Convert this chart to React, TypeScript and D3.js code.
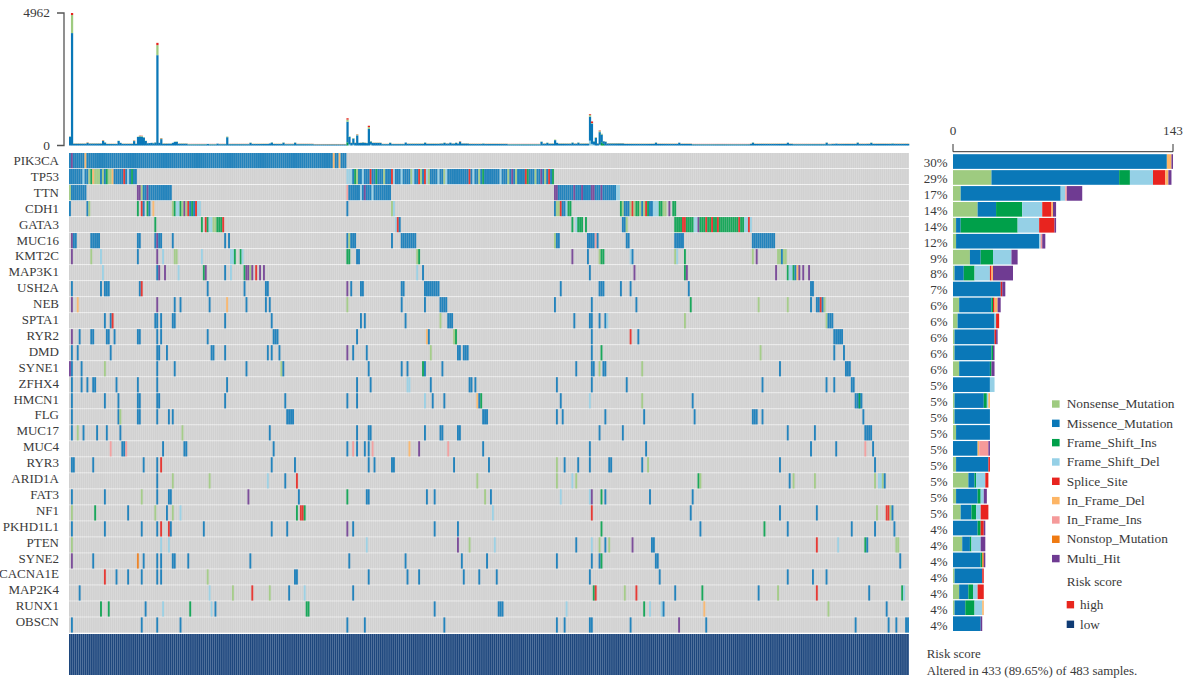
import React from "react";
import * as d3 from "d3";

const FONT = "'Liberation Serif', serif";
const INK = "#3a3a3a";

const typeKeys = ["N", "M", "I", "D", "S", "F", "J", "T", "H"];
const typeNames = ["Nonsense_Mutation", "Missence_Mutation", "Frame_Shift_Ins", "Frame_Shift_Del", "Splice_Site", "In_Frame_Del", "In_Frame_Ins", "Nonstop_Mutation", "Multi_Hit"];
const typeColors = ["#9ecb80", "#0a78b8", "#00a04a", "#95d0e6", "#e8241f", "#fdb565", "#f59a9a", "#ef7a12", "#6f3b92"];
const riskNames = ["high", "low"];
const riskColors = ["#e8261e", "#0f3b74"];

const genes = ["PIK3CA", "TP53", "TTN", "CDH1", "GATA3", "MUC16", "KMT2C", "MAP3K1", "USH2A", "NEB", "SPTA1", "RYR2", "DMD", "SYNE1", "ZFHX4", "HMCN1", "FLG", "MUC17", "MUC4", "RYR3", "ARID1A", "FAT3", "NF1", "PKHD1L1", "PTEN", "SYNE2", "CACNA1E", "MAP2K4", "RUNX1", "OBSCN"];
const percents = [30, 29, 17, 14, 14, 12, 9, 8, 7, 6, 6, 6, 6, 6, 5, 5, 5, 5, 5, 5, 5, 5, 5, 4, 4, 4, 4, 4, 4, 4];

const PIK3CA = ["0M", "1H", "2-7M", "8F", "9-135M", "136F", "137-138M", "139F", "140-142M"];
const TP53 = ["0-6M", "7D", "8-9M", "10N", "11I", "12F", "13-14N", "15N", "16M", "17N", "18M", "19I", "20-21N", "22F", "23-27M", "28S", "29M", "30D", "31M", "32I", "33-34M", "143-145D", "146M", "147I", "148N", "149-150M", "151D", "152-154M", "155S", "156-157M", "158I", "159-161M", "162N", "163-165M", "166S", "167D", "168-170M", "171D", "172-175M", "176N", "177D", "178-179M", "180S", "181N", "182M", "183S", "184D", "185N", "186-189M", "190D", "191-192M", "193N", "194D", "195-200M", "201-205M", "206S", "207M", "208D", "209-210M", "211N", "212M", "213I", "214-221M", "222D", "223-225M", "226N", "227M", "228H", "229M", "230N", "231M", "232-234M", "235S", "236I", "237-239M", "240N", "241-242M", "243H", "244M", "245N", "246M", "247S", "248M", "249I"];
const TTN = ["0N", "1-8M", "35-36H", "37N", "38-39M", "40H", "41-52M", "143J", "144-149M", "150D", "151M", "152H", "153-155M", "156D", "157-165M", "250-251H", "252-259M", "260H", "261-263M", "264H", "265-268M", "269-270H", "271-273M", "274H", "275-281M", "282-283D"];
const CDH1 = ["0M", "9M", "10N", "35I", "37S", "38M", "40I", "41M", "43F", "53N", "54I", "55-56D", "57I", "58N", "59H", "60N", "61S", "62M", "63I", "64M", "65S", "66-67D", "143M", "166N", "167D", "250M", "251-252N", "253S", "254-255M", "256D", "257-258I", "284I", "285N", "286-288M", "289N", "290S", "291N", "292-293I", "294N", "295M", "296N", "297S", "298I", "299-300M", "301-303D", "304-305I", "306-307N", "309H", "311-312I"];
const GATA3 = ["44I", "68I", "70S", "71I", "72-73D", "74-75N", "76I", "77-78I", "79S", "168D", "169S", "170M", "259I", "261D", "262-264I", "266I", "285-286M", "287N", "312-315I", "316-317S", "318-321I", "322-323D", "324H", "325-327I", "328S", "329-330I", "331S", "332-333I", "334S", "335-344I", "345S", "346-347I", "348-349D", "350S", "351D"];
const MUC16 = ["1H", "2-3M", "11-15M", "35-36M", "44M", "45H", "46-47M", "53M", "80M", "82M", "143M", "144N", "145-147M", "166M", "171-178M", "250N", "251-252M", "267-270M", "271J", "272M", "287-288M", "312-316M", "352-363M"];
const KMT2C = ["1H", "11N", "16D", "35M", "45H", "48D", "54-55N", "68D", "83-84D", "85I", "88I", "89D", "143-144I", "148-149M", "179N", "180I", "259H", "267M", "273N", "274-275I", "289D", "290M", "312N", "313D", "317I", "352N", "354H", "365-366N", "367M", "368-369N"];
const MAP3K1 = ["17D", "45M", "46H", "49H", "56D", "69I", "70H", "80M", "83D", "90I", "91-92H", "93N", "94H", "96S", "98H", "100H", "179D", "182M", "268M", "291H", "317I", "318H", "364H", "370I", "371-372D", "373I", "374M", "375F", "376H", "378H", "381H"];
const USH2A = ["1M", "16M", "18-20M", "36M", "37S", "71M", "90M", "101-102M", "143H", "145M", "150-151M", "171-172M", "183-190M", "253M", "273-275M", "284M", "289M", "319M", "382-383M"];
const NEB = ["1H", "4F", "45H", "54M", "57M", "72M", "81F", "91M", "101M", "103M", "143N", "171M", "183M", "191-194M", "250M", "269M", "292M", "320I", "355N", "370N", "382M", "385-386M", "387S", "388M", "389N"];
const SPTA1 = ["18M", "21M", "22S", "44-45M", "47M", "53-54M", "80M", "104M", "150M", "152M", "173M", "191N", "195-197M", "260M", "268-269M", "273M", "276M", "277D", "317N", "390N", "391-393M"];
const RYR2 = ["1H", "5M", "11-12M", "19-20M", "23M", "35-36M", "45M", "47M", "71M", "105-107M", "148M", "184F", "185M", "198N", "199I", "269M", "289S", "293M", "394-398M"];
const DMD = ["1M", "4M", "21M", "45-46M", "50M", "73-74M", "80M", "102M", "104M", "108M", "143H", "146M", "153M", "186N", "200-201M", "203-205M", "269M", "274I", "356N", "394M", "399M"];
const SYNE1 = ["0H", "1M", "6M", "18N", "45M", "54M", "91M", "109N", "110M", "154M", "171M", "174M", "182I", "183M", "192M", "261M", "269-270M", "273N", "275-276M", "295N", "366M", "400-402M"];
const ZFHX4 = ["1M", "6M", "9M", "12-13M", "24M", "35M", "45M", "81M", "148M", "155M", "174-175D", "186M", "206-207M", "209M", "251M", "269M", "287M", "357M", "390M", "394M", "403-404M"];
const HMCN1 = ["1M", "18M", "25M", "35-36M", "45-46M", "80M", "111M", "143M", "148M", "183D", "187M", "193M", "210F", "211M", "212I", "253M", "268D", "295N", "321M", "405-407M", "407I", "408M"];
const FLG = ["1M", "25M", "26N", "35-36M", "45M", "51M", "53M", "112-115M", "213-215M", "251M", "254M", "276M", "296M", "322M", "352-354M", "357M", "409M"];
const MUC17 = ["1M", "4N", "7M", "14M", "19M", "26M", "58N", "103M", "148M", "154-155M", "183M", "191-192M", "200-201M", "273M", "285M", "370M", "384M", "410-413M"];
const MUC4 = ["21J", "27-28M", "29J", "48M", "59-60M", "105M", "143M", "146J", "148M", "152M", "154M", "156J", "175F", "180H", "195J", "213M", "268M", "297M", "382M", "395M", "410J", "414M"];
const RYR3 = ["1-2M", "12M", "38M", "45M", "47S", "104M", "116M", "154M", "157M", "166-167M", "198M", "216M", "251N", "255M", "262M", "268M", "278-279M", "295M", "298N", "366M", "415M"];
const ARID1A = ["45M", "53N", "72N", "102D", "111M", "117S", "210N", "251N", "259D", "261N", "324I", "325N", "371M", "373N", "384N", "415N", "417D", "418D", "419N", "420M"];
const FAT3 = ["1M", "18M", "37N", "45M", "51-52M", "92H", "118M", "143I", "153-154M", "184M", "188M", "214N", "217M", "253D", "268D", "269H", "274I", "276M", "299M", "321M"];
const NF1 = ["1N", "13I", "30M", "44N", "50M", "53N", "57D", "117I", "119-120S", "121I", "218D", "269S", "320M", "366M", "385M", "416N", "421-422S", "423N", "424M"];
const PKHD1L1 = ["1M", "18M", "37M", "45M", "47S", "51S", "52M", "69M", "104M", "112M", "143H", "146M", "188M", "200M", "274I", "325M", "358I", "370M", "403M", "415M", "425M"];
const PTEN = ["1N", "47D", "51D", "153D", "200H", "206N", "219D", "261M", "269D", "273N", "276M", "278N", "290H", "300-301M", "385S", "396D", "410I", "411M", "426-427N"];
const SYNE2 = ["1H", "12M", "35T", "38M", "45M", "47M", "53-54M", "61M", "93M", "144M", "173M", "202M", "215M", "251M", "269M", "273M", "274I", "302-303M", "428M"];
const CACNA1E = ["18S", "24M", "30M", "37M", "45M", "47M", "71N", "116-117M", "154M", "174M", "180M", "203M", "211M", "220M", "268M", "304M", "370M", "383M", "390M"];
const MAP2K4 = ["5M", "72D", "84N", "94S", "103N", "113M", "121D", "146M", "270I", "271S", "286N", "292S", "312M", "326I", "355M", "365N", "385S", "412M", "429I", "430D"];
const RUNX1 = ["16I", "20I", "39M", "48D", "62I", "73D", "75M", "122-123I", "188M", "221-223M", "256D", "296I", "299D", "305D", "306M", "327F", "391N", "421M"];
const OBSCN = ["1M", "37M", "45M", "57M", "143M", "152M", "193M", "251M", "255M", "268-269M", "289M", "314H", "328M", "405M", "422M", "426M", "431-432M"];
const hitLists = [PIK3CA, TP53, TTN, CDH1, GATA3, MUC16, KMT2C, MAP3K1, USH2A, NEB, SPTA1, RYR2, DMD, SYNE1, ZFHX4, HMCN1, FLG, MUC17, MUC4, RYR3, ARID1A, FAT3, NF1, PKHD1L1, PTEN, SYNE2, CACNA1E, MAP2K4, RUNX1, OBSCN];

// Gene totals per type, order N M I D S F J T H
const geneTotals = [
  [0, 139, 0, 0, 0, 3, 0, 0, 1],
  [25, 83, 7, 15, 8, 2, 0, 0, 2],
  [5, 65, 0, 3, 0, 0, 1, 0, 10],
  [16, 12, 17, 13, 6, 1, 0, 0, 2],
  [2, 3, 37, 14, 10, 0, 0, 0, 1],
  [2, 54, 0, 1, 0, 0, 1, 0, 2],
  [11, 7, 8, 12, 0, 0, 0, 0, 4],
  [1, 6, 7, 10, 1, 1, 0, 0, 13],
  [0, 31, 0, 0, 1, 0, 0, 0, 2],
  [4, 21, 1, 0, 1, 2, 0, 0, 2],
  [3, 24, 0, 1, 2, 0, 0, 0, 0],
  [1, 26, 0, 0, 1, 0, 0, 0, 1],
  [1, 24, 1, 0, 0, 0, 0, 0, 1],
  [4, 20, 1, 0, 0, 0, 0, 0, 2],
  [0, 24, 0, 3, 0, 0, 0, 0, 0],
  [1, 19, 2, 1, 0, 1, 0, 0, 0],
  [1, 23, 0, 0, 0, 0, 0, 0, 0],
  [2, 22, 0, 0, 0, 0, 0, 0, 0],
  [0, 16, 0, 0, 0, 1, 6, 0, 1],
  [2, 21, 0, 0, 1, 0, 0, 0, 0],
  [10, 4, 1, 6, 2, 0, 0, 0, 0],
  [2, 14, 2, 2, 0, 0, 0, 0, 2],
  [5, 7, 3, 3, 5, 0, 0, 0, 0],
  [0, 16, 2, 0, 2, 0, 0, 0, 1],
  [6, 5, 1, 6, 0, 0, 0, 0, 3],
  [0, 18, 1, 0, 0, 0, 0, 1, 1],
  [1, 18, 0, 0, 1, 0, 0, 0, 0],
  [4, 6, 3, 3, 4, 0, 0, 0, 0],
  [1, 7, 6, 5, 0, 1, 0, 0, 0],
  [0, 18, 0, 0, 0, 0, 0, 0, 1],
];

const sampleCount = 433;
const burdenMax = 4962;
const sideMax = 143;
const burdenKeys = ["I", "D", "M", "N", "S"];
const burdenKeyColors = ["#00a04a", "#95d0e6", "#0a78b8", "#9ecb80", "#e8241f"];

// Low-burden stretches [from, to, missense, nonsense, splice]
const burdenRuns = [
  [0, 8, 65, 10, 3], [9, 16, 70, 10, 3], [17, 24, 55, 10, 3], [25, 34, 60, 10, 3], [35, 44, 85, 10, 3],
  [45, 60, 65, 12, 3], [61, 75, 45, 12, 4], [76, 92, 50, 10, 4], [93, 110, 55, 10, 3], [111, 125, 50, 12, 4],
  [126, 142, 40, 12, 5], [143, 160, 95, 10, 3], [161, 172, 52, 10, 3], [173, 190, 60, 12, 3], [191, 205, 70, 10, 3],
  [206, 225, 55, 10, 4], [226, 242, 45, 12, 4], [243, 267, 65, 12, 3], [268, 285, 75, 12, 3], [286, 300, 58, 10, 3],
  [301, 320, 58, 10, 4], [321, 350, 45, 10, 5], [351, 372, 58, 10, 4], [373, 392, 50, 10, 4], [393, 410, 55, 10, 4], [411, 432, 58, 10, 4],
];
// Tall samples [col, ins, del, missense, nonsense, splice]
const burdenPeaks = [
  [0, 0, 0, 330, 10, 0], [1, 0, 0, 4210, 676, 76], [9, 0, 0, 95, 15, 8], [17, 0, 0, 170, 20, 10], [18, 0, 0, 110, 10, 0],
  [25, 0, 0, 170, 12, 0], [26, 0, 0, 100, 0, 0], [33, 0, 0, 165, 20, 8], [35, 0, 0, 320, 10, 0], [36, 0, 0, 340, 20, 10],
  [37, 0, 0, 330, 25, 10], [38, 0, 0, 300, 10, 0], [39, 0, 0, 170, 10, 0], [41, 0, 0, 90, 0, 0], [42, 0, 0, 100, 0, 0],
  [44, 0, 0, 110, 10, 0], [45, 0, 0, 3383, 376, 85], [46, 0, 0, 100, 0, 0], [47, 0, 0, 240, 30, 10], [51, 0, 0, 70, 0, 0],
  [53, 0, 0, 100, 0, 0], [54, 0, 0, 135, 10, 0], [55, 0, 0, 140, 10, 0], [71, 0, 0, 60, 0, 0], [76, 0, 0, 70, 0, 0],
  [81, 0, 0, 310, 25, 0], [93, 0, 0, 100, 10, 0], [103, 0, 0, 75, 0, 0], [104, 0, 0, 110, 10, 0], [110, 0, 0, 105, 10, 0], [116, 0, 0, 105, 10, 0],
  [143, 120, 0, 770, 80, 50], [144, 0, 40, 280, 20, 0], [146, 0, 30, 230, 20, 0], [148, 0, 0, 380, 30, 10], [149, 0, 0, 100, 0, 0],
  [151, 0, 0, 110, 10, 0], [153, 0, 0, 90, 10, 0], [154, 0, 0, 620, 70, 50], [155, 0, 30, 120, 20, 0],
  [165, 0, 0, 100, 10, 0], [173, 0, 0, 110, 0, 0], [183, 0, 0, 105, 10, 0], [193, 0, 0, 100, 10, 0], [196, 0, 0, 105, 0, 0],
  [199, 0, 0, 100, 10, 0], [201, 0, 0, 140, 10, 10], [213, 0, 0, 70, 10, 0], [243, 0, 0, 140, 10, 0], [246, 0, 0, 100, 10, 0],
  [250, 0, 0, 200, 20, 0], [251, 0, 0, 100, 0, 0], [259, 0, 0, 105, 10, 0], [262, 0, 0, 105, 10, 0],
  [268, 0, 180, 900, 60, 30], [269, 0, 60, 760, 20, 60], [270, 0, 30, 120, 10, 0], [271, 0, 0, 290, 20, 0],
  [273, 0, 30, 470, 40, 20], [274, 120, 0, 290, 30, 0], [275, 60, 0, 100, 10, 0], [276, 0, 0, 140, 10, 0],
  [302, 0, 0, 105, 10, 0], [314, 0, 0, 105, 0, 0], [352, 0, 0, 105, 10, 0], [370, 0, 0, 105, 0, 0], [390, 0, 0, 105, 10, 0],
  [395, 0, 0, 70, 0, 0], [406, 0, 0, 105, 10, 0], [413, 0, 0, 100, 10, 0], [424, 0, 0, 70, 10, 0],
];

// every altered sample carries the "low" risk label
const riskLabels = Array.from({ length: sampleCount }, () => "low");

const x = d3.scaleLinear().domain([0, sampleCount]).range([69, 909]);
const y = d3.scaleLinear().domain([0, burdenMax]).range([145.5, 13]);
const rowY = d3.scaleBand<string>().domain(genes).range([153, 632.6]).paddingInner(0.05);
const sideY = d3.scaleBand<string>().domain(genes).range([154.2, 631]).paddingInner(0.08);
const geneLabelY = d3.scaleLinear().domain([0, 29]).range([160.5, 621.7]);
const percentLabelY = d3.scaleLinear().domain([0, 29]).range([162.3, 625]);
const sideX = d3.scaleLinear().domain([0, sideMax]).range([953, 1173]);
const cw = x(1) - x(0);

const parseHit = (s: string) => {
  const m = s.match(/^(\d+)(?:-(\d+))?([A-Z])$/)!;
  const from = +m[1];
  const to = m[2] ? +m[2] : from;
  return d3.range(from, to + 1).map((c) => ({ col: c, type: m[3] }));
};

const burdenTable = d3.range(sampleCount).map((col) => {
  const run = burdenRuns.find((r) => col >= r[0] && col <= r[1])!;
  const peak = burdenPeaks.find((p) => p[0] === col);
  if (peak) return { col, I: peak[1], D: peak[2], M: peak[3], N: peak[4], S: peak[5] };
  return { col, I: 0, D: 0, M: run[2], N: run[3], S: run[4] };
});
const burdenStack = d3.stack<any>().keys(burdenKeys)(burdenTable);
const sideStack = d3.stack<any>().keys(typeKeys)(
  geneTotals.map((t, i) => {
    const o: any = { gene: genes[i] };
    typeKeys.forEach((k, j) => (o[k] = t[j]));
    return o;
  })
);

const colorOf = (k: string) => typeColors[typeKeys.indexOf(k)];
const cols = d3.range(sampleCount);

export default function App() {
  const lab = { fontFamily: FONT, fill: INK };
  return (
    <svg width={1192} height={682} style={{ position: "absolute", left: 0, top: 0, display: "block" }}>
      <rect width={1192} height={682} fill="#fff" />
      {/* burden bars */}
      {burdenStack.map((layer, li) => (
        <g key={li} fill={burdenKeyColors[li]}>
          {layer.filter((d) => d[1] > d[0]).map((d) => (
            <rect key={d.data.col} x={x(d.data.col)} width={cw + 0.3} y={y(d[1])} height={y(d[0]) - y(d[1])} />
          ))}
        </g>
      ))}
      {/* burden axis */}
      <path d={`M57,${y(burdenMax)}H64V${y(0)}H57`} fill="none" stroke="#555" strokeWidth={1.3} />
      <text {...lab} x={50} y={y(burdenMax) + 4.3} fontSize={13.4} textAnchor="end">{burdenMax}</text>
      <text {...lab} x={50} y={y(0) + 4.3} fontSize={13.4} textAnchor="end">0</text>

      {/* matrix */}
      {genes.map((g, i) => (
        <g key={g}>
          <rect x={69} y={rowY(g)} width={840} height={rowY.bandwidth()} fill="#e4e4e4" />
          <g fill="#d1d1d1">
            {cols.map((c) => (
              <rect key={c} x={x(c)} y={rowY(g)} width={cw - 0.28} height={rowY.bandwidth()} />
            ))}
          </g>
          {hitLists[i].flatMap(parseHit).map((h, k) => (
            <rect key={k} x={x(h.col)} y={rowY(g)} width={cw - 0.05} height={rowY.bandwidth()} fill={colorOf(h.type)} fillOpacity={0.88} />
          ))}
          <text {...lab} x={59} y={geneLabelY(i) + 4.5} fontSize={13} textAnchor="end">{g}</text>
          <text {...lab} x={947.5} y={percentLabelY(i) + 4.5} fontSize={13} textAnchor="end">{percents[i]}%</text>
        </g>
      ))}

      {/* risk strip */}
      <rect x={69} y={634} width={840} height={41} fill="#9fb3cc" />
      <g>
        {riskLabels.map((r, c) => (
          <rect key={c} x={x(c)} y={634} width={cw - 0.3} height={41} fill={riskColors[riskNames.indexOf(r)]} fillOpacity={0.9} />
        ))}
      </g>

      {/* side bars */}
      {sideStack.map((layer, li) => (
        <g key={li} fill={typeColors[li]}>
          {layer.filter((d) => d[1] > d[0]).map((d) => (
            <rect key={d.data.gene} x={sideX(d[0])} width={sideX(d[1]) - sideX(d[0])} y={sideY(d.data.gene)} height={sideY.bandwidth()} />
          ))}
        </g>
      ))}
      <path d={`M${sideX(0)},144V151.7H${sideX(sideMax)}V144`} fill="none" stroke="#333" strokeWidth={1} />
      <text {...lab} x={sideX(0)} y={135} fontSize={13.2} textAnchor="middle">0</text>
      <text {...lab} x={sideX(sideMax)} y={135} fontSize={13.2} textAnchor="middle">{sideMax}</text>

      {/* legend */}
      {typeNames.map((n, i) => {
        const cy = d3.scaleLinear().domain([0, 8]).range([404, 558.6])(i);
        return (
          <g key={n}>
            <rect x={1052} y={cy - 3.7} width={7.6} height={7.4} fill={typeColors[i]} />
            <text {...lab} x={1066.7} y={cy + 4.2} fontSize={13.4}>{n}</text>
          </g>
        );
      })}
      <text {...lab} x={1066.7} y={586} fontSize={13.2}>Risk score</text>
      {riskNames.map((n, i) => {
        const cy = i === 0 ? 604.7 : 624.3;
        return (
          <g key={n}>
            <rect x={1066.7} y={cy - 3.7} width={7.4} height={7.4} fill={riskColors[i]} />
            <text {...lab} x={1080} y={cy + 4.2} fontSize={13.2}>{n}</text>
          </g>
        );
      })}
      <text {...lab} x={926.7} y={658} fontSize={12.9}>Risk score</text>
      <text {...lab} x={926.7} y={675} fontSize={12.9}>Altered in 433 (89.65%) of 483 samples.</text>
    </svg>
  );
}
